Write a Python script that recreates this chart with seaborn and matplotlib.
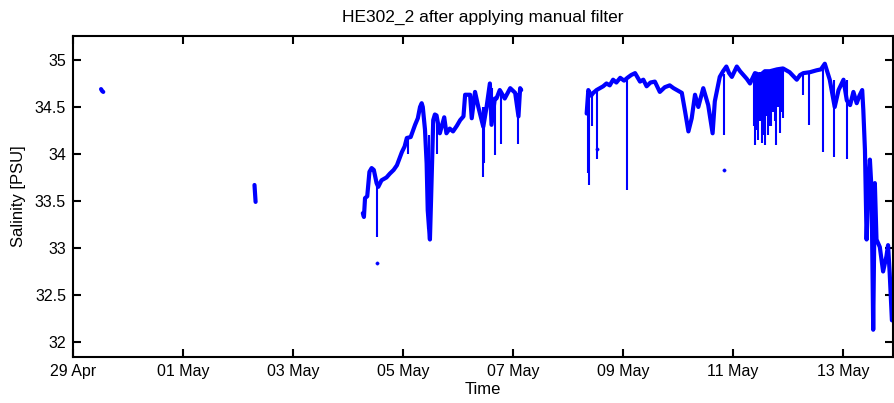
import pandas as pd
import matplotlib.pyplot as plt
import seaborn as sns

# start of the time axis
base = pd.Timestamp("2008-04-29")

# main salinity trace, days since 29 Apr and PSU, one list per logging segment
seg1_day = [0.51, 0.53, 0.55]
seg1_sal = [34.69, 34.67, 34.66]

seg2_day = [3.30, 3.31, 3.32]
seg2_sal = [33.67, 33.58, 33.49]

seg3_day = [5.27, 5.29, 5.31, 5.35, 5.39, 5.43, 5.47, 5.52, 5.55, 5.61, 5.70, 5.76, 5.83, 5.89,
            5.98, 6.03, 6.07, 6.14, 6.22, 6.27, 6.31, 6.34, 6.36, 6.40, 6.43, 6.45, 6.49, 6.51, 6.55,
            6.58, 6.61, 6.67, 6.75, 6.79, 6.85, 6.91, 6.98, 7.04, 7.10, 7.13, 7.22, 7.25, 7.31, 7.37,
            7.46, 7.52, 7.58, 7.61, 7.67, 7.70, 7.76, 7.85, 7.95, 8.04, 8.10, 8.13, 8.15]
seg3_sal = [33.37, 33.33, 33.53, 33.55, 33.81, 33.85, 33.83, 33.69, 33.65, 33.72, 33.75, 33.79, 33.83, 33.88,
            34.02, 34.08, 34.17, 34.18, 34.31, 34.38, 34.50, 34.54, 34.50, 34.26, 33.90, 33.40, 33.09, 33.50, 34.36,
            34.42, 34.41, 34.22, 34.39, 34.22, 34.27, 34.24, 34.30, 34.36, 34.40, 34.63, 34.63, 34.38, 34.66, 34.50,
            34.29, 34.50, 34.75, 34.31, 34.59, 34.59, 34.68, 34.59, 34.70, 34.65, 34.40, 34.70, 34.68]

seg4_day = [9.34, 9.37, 9.42, 9.46, 9.52, 9.58, 9.64, 9.70, 9.76, 9.82, 9.88, 9.95, 10.02, 10.08,
            10.15, 10.22, 10.31, 10.37, 10.43, 10.50, 10.58, 10.67, 10.76, 10.85, 10.92, 10.98, 11.07,
            11.13, 11.19, 11.25, 11.31, 11.37, 11.46, 11.55, 11.63, 11.67, 11.76, 11.82, 11.88, 11.93,
            11.98, 12.07, 12.13, 12.19, 12.25, 12.31, 12.40, 12.50, 12.58, 12.67, 12.80, 12.91, 13.03,
            13.16, 13.22, 13.28, 13.40, 13.52, 13.60, 13.67, 13.76, 13.85, 13.92, 14.01, 14.07, 14.13,
            14.19, 14.25, 14.30, 14.35, 14.37, 14.40, 14.43, 14.46, 14.49, 14.52, 14.55, 14.58, 14.61,
            14.67, 14.73, 14.79, 14.82, 14.85, 14.89]
seg4_sal = [34.43, 34.68, 34.62, 34.65, 34.68, 34.70, 34.72, 34.75, 34.73, 34.79, 34.76, 34.81, 34.78, 34.81,
            34.84, 34.86, 34.77, 34.79, 34.72, 34.76, 34.77, 34.66, 34.71, 34.73, 34.70, 34.68, 34.65,
            34.45, 34.24, 34.38, 34.63, 34.50, 34.70, 34.52, 34.22, 34.56, 34.82, 34.88, 34.93, 34.86,
            34.82, 34.93, 34.88, 34.84, 34.80, 34.75, 34.86, 34.84, 34.88, 34.88, 34.90, 34.91, 34.87,
            34.79, 34.84, 34.86, 34.87, 34.89, 34.90, 34.96, 34.79, 34.50, 34.68, 34.79, 34.57, 34.52,
            34.66, 34.54, 34.62, 34.68, 34.47, 34.04, 33.09, 33.62, 33.94, 33.62, 32.13, 33.69, 33.09,
            33.01, 32.75, 32.91, 33.03, 32.73, 32.23]

# downward spikes: day, top value, lowest value
spike_day = [5.53, 6.10, 6.46, 6.47, 6.48, 6.62, 7.46, 7.47, 7.62, 7.67, 7.79, 8.10,
             9.37, 9.38, 9.44, 9.52, 10.08, 11.84, 12.38, 12.40, 12.43, 12.46, 12.49, 12.52,
             12.55, 12.58, 12.61, 12.64, 12.67, 12.70, 12.73, 12.76, 12.79, 12.82, 12.85,
             12.88, 12.91, 13.28, 13.38, 13.64, 13.84, 14.07]
spike_top = [33.65, 34.17, 34.00, 34.10, 34.20, 34.41, 34.50, 34.50, 34.70, 34.59, 34.68, 34.65,
             34.68, 34.68, 34.66, 34.68, 34.81, 34.85, 34.86, 34.86, 34.85, 34.86, 34.87, 34.87,
             34.87, 34.88, 34.88, 34.88, 34.88, 34.89, 34.89, 34.90, 34.90, 34.90, 34.90,
             34.91, 34.91, 34.86, 34.87, 34.93, 34.79, 34.79]
spike_low = [33.12, 34.00, 33.20, 33.09, 33.30, 34.00, 33.76, 33.90, 34.31, 33.99, 34.11, 34.11,
             33.80, 33.67, 34.30, 33.95, 33.62, 34.20, 34.30, 34.10, 34.25, 34.15, 34.35, 34.12,
             34.20, 34.10, 34.40, 34.20, 34.30, 34.30, 34.45, 34.35, 34.10, 34.50, 34.22,
             34.45, 34.38, 34.63, 34.31, 34.02, 33.97, 33.95]

# isolated outlier samples
dot_day = [5.53, 9.53, 11.84]
dot_sal = [32.84, 34.05, 33.83]

# x ticks every two days from 29 Apr
tick_day = [0, 2, 4, 6, 8, 10, 12, 14]
tick_lab = ["29 Apr", "01 May", "03 May", "05 May", "07 May", "09 May", "11 May", "13 May"]


def to_time(days):
    return base + pd.to_timedelta(days, unit="D")


frames = []
for i, (d, s) in enumerate([(seg1_day, seg1_sal), (seg2_day, seg2_sal),
                            (seg3_day, seg3_sal), (seg4_day, seg4_sal)]):
    frames.append(pd.DataFrame({"time": to_time(d), "sal": s, "seg": i}))
trace = pd.concat(frames, ignore_index=True)

sns.set_style("ticks")
plt.rcParams["font.family"] = ["Liberation Sans", "DejaVu Sans"]

fig = plt.figure(figsize=(8.95, 4.03), dpi=100)
ax = fig.add_axes([73 / 895, 1 - 357 / 403, 820 / 895, 321 / 403])

blue = (0, 0, 1)
sns.lineplot(data=trace, x="time", y="sal", units="seg", estimator=None,
             color=blue, linewidth=3, ax=ax)
ax.vlines(to_time(spike_day), spike_low, spike_top, color=blue, linewidth=1.5)
sns.scatterplot(x=to_time(dot_day), y=dot_sal, color=blue, s=6,
                edgecolor=blue, ax=ax)

ax.set_xlim(base, to_time(14.91))
ax.set_ylim(31.84, 35.255)
ax.set_xticks(to_time(tick_day))
ax.set_xticklabels(tick_lab)
ax.set_yticks([32, 32.5, 33, 33.5, 34, 34.5, 35])
ax.set_yticklabels(["32", "32.5", "33", "33.5", "34", "34.5", "35"])

ax.tick_params(direction="in", length=6, width=1.5, top=True, right=True,
               labelsize=11.5, colors="black", pad=5)
for sp in ax.spines.values():
    sp.set_visible(True)
    sp.set_linewidth(1.5)
    sp.set_color("black")

ax.set_xlabel("Time", fontsize=12, labelpad=2, color="black")
ax.set_ylabel("Salinity [PSU]", fontsize=12, labelpad=6, color="black")
ax.set_title("HE302_2 after applying manual filter", fontsize=12.5, pad=10,
             color="black")

fig.savefig("out.png", dpi=100)
